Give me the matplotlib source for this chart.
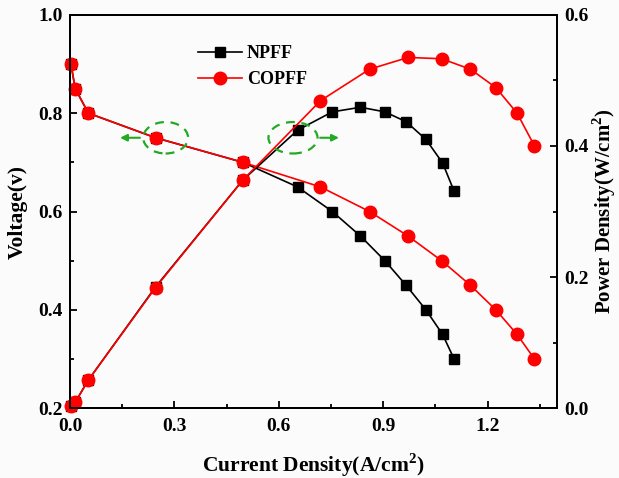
import matplotlib
matplotlib.use("Agg")
import matplotlib.pyplot as plt
from matplotlib.patches import Ellipse
from matplotlib.ticker import MultipleLocator

plt.rcParams['font.family'] = ['Liberation Serif', 'DejaVu Serif']
plt.rcParams['font.weight'] = 'bold'
plt.rcParams['mathtext.fontset'] = 'custom'
plt.rcParams['mathtext.bf'] = 'Liberation Serif:bold'
plt.rcParams['mathtext.rm'] = 'Liberation Serif'

# current density (A/cm2) for each sample
i_npff = [0.003, 0.015, 0.053, 0.246, 0.497, 0.654, 0.754, 0.835, 0.905, 0.966, 1.023, 1.071, 1.104]
i_copff = [0.003, 0.015, 0.053, 0.246, 0.497, 0.720, 0.861, 0.972, 1.068, 1.151, 1.224, 1.285, 1.335]

# cell voltage (V)
v_npff = [0.90, 0.85, 0.80, 0.75, 0.70, 0.65, 0.60, 0.55, 0.50, 0.45, 0.40, 0.35, 0.30]
v_copff = [0.90, 0.85, 0.80, 0.75, 0.70, 0.65, 0.60, 0.55, 0.50, 0.45, 0.40, 0.35, 0.30]

# power density (W/cm2)
p_npff = [0.003, 0.009, 0.043, 0.185, 0.348, 0.424, 0.452, 0.459, 0.452, 0.437, 0.410, 0.374, 0.331]
p_copff = [0.003, 0.009, 0.043, 0.184, 0.348, 0.469, 0.517, 0.535, 0.533, 0.517, 0.489, 0.450, 0.400]

bg = '#fbfbfb'
fig = plt.figure(figsize=(6.19, 4.78), dpi=100, facecolor=bg)
ax = fig.add_axes([0.113, 0.146, 0.787, 0.823], facecolor=bg)
ax2 = ax.twinx()

sq = dict(color='black', marker='s', markersize=7.8, linewidth=1.2, clip_on=False)
ci = dict(color='red', marker='o', markersize=9, linewidth=1.2, clip_on=False)

ax.plot(i_npff, v_npff, label='NPFF', **sq)
ax.plot(i_copff, v_copff, label='COPFF', **ci)
ax2.plot(i_npff, p_npff, **sq)
ax2.plot(i_copff, p_copff, **ci)

ax.set_xlim(0, 1.4)
ax.set_ylim(0.2, 1.0)
ax2.set_ylim(0, 0.6)

ax.xaxis.set_major_locator(MultipleLocator(0.3))
ax.xaxis.set_minor_locator(MultipleLocator(0.15))
ax.yaxis.set_major_locator(MultipleLocator(0.2))
ax.yaxis.set_minor_locator(MultipleLocator(0.1))
ax2.yaxis.set_major_locator(MultipleLocator(0.2))
ax2.yaxis.set_minor_locator(MultipleLocator(0.1))

for a in (ax, ax2):
    a.tick_params(which='both', direction='in', width=1.3, labelsize=14, pad=5)
    a.tick_params(which='major', length=5)
    a.tick_params(which='minor', length=3)
    for s in a.spines.values():
        s.set_linewidth(1.4)
ax.tick_params(axis='both', which='both', top=False, right=False)
ax.tick_params(axis='x', pad=7)
ax2.tick_params(axis='y', which='both', left=False, right=True)

for lab in ax.get_xticklabels() + ax.get_yticklabels() + ax2.get_yticklabels():
    lab.set_fontweight('bold')

ax.set_xlabel('Current Density(A/cm$^\\mathbf{2}$)', fontsize=15.5, fontweight='bold', labelpad=12)
ax.set_ylabel('Voltage(v)', fontsize=15.5, fontweight='bold', labelpad=8)
ax2.set_ylabel('Power Density(W/cm$^\\mathbf{2}$)', fontsize=15, fontweight='bold', labelpad=1)

ax.legend(loc='upper left', bbox_to_anchor=(0.23, 0.965), frameon=False,
          prop={'weight': 'bold', 'size': 13}, handlelength=2.4, handletextpad=0.3,
          labelspacing=0.5)

# dashed ellipses with arrows pointing to the matching axis
green = '#22aa22'
for cx, w, x0, x1 in [(0.275, 0.129, 0.209, 0.136), (0.641, 0.141, 0.711, 0.781)]:
    ax2.add_patch(Ellipse((cx, 0.75), w, 0.064, transform=ax.transData, fill=False,
                          edgecolor=green, linestyle=(0, (4, 3)), linewidth=1.6, zorder=5))
    ax2.annotate('', xy=(x1, 0.75), xytext=(x0, 0.75), xycoords=ax.transData,
                 textcoords=ax.transData,
                 arrowprops=dict(arrowstyle='-|>', color=green, lw=1.5, mutation_scale=10),
                 zorder=5)

fig.savefig('out.png', dpi=100, facecolor=bg)
